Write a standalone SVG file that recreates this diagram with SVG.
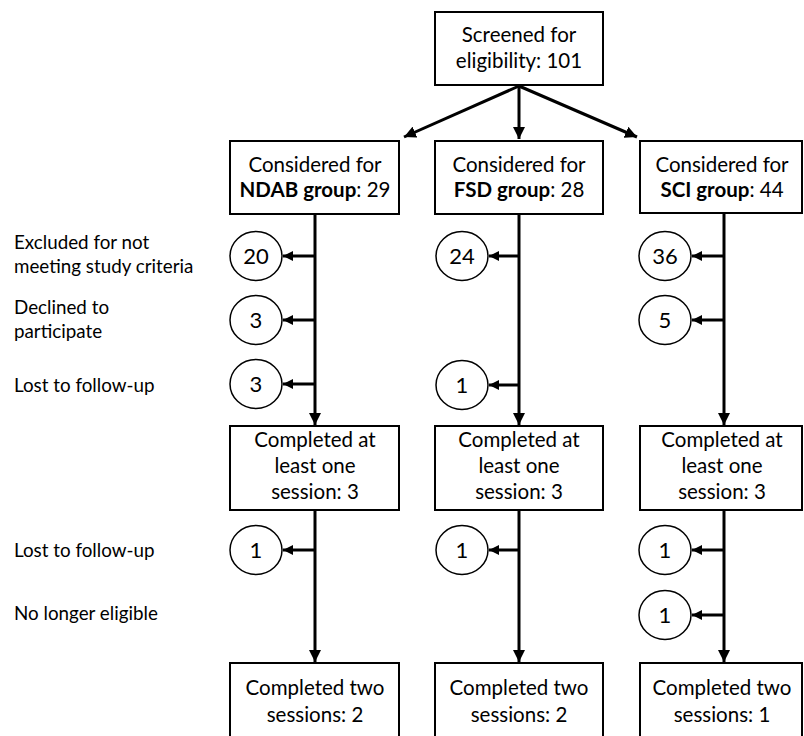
<svg xmlns="http://www.w3.org/2000/svg" width="804" height="736" viewBox="0 0 804 736">
<style>
.box{fill:#fff;stroke:#000;stroke-width:2}
.cir{fill:#fff;stroke:#000;stroke-width:1.5}
.t{font-family:Lato,"Liberation Sans",sans-serif;font-size:20.5px;fill:#000;text-anchor:middle}
.n{font-family:Lato,"Liberation Sans",sans-serif;font-size:22px;fill:#000;text-anchor:middle}
.lab{font-family:Lato,"Liberation Sans",sans-serif;font-size:18.8px;fill:#000}
.c{stroke:#000;stroke-width:3;fill:none}
.h{stroke:#000;stroke-width:3;fill:none}
.b{font-weight:bold}
</style>
<defs>
<marker id="ah" markerUnits="userSpaceOnUse" markerWidth="12" markerHeight="12" refX="12" refY="6" orient="auto">
<path d="M0,0 L12,6 L0,12 z" fill="#000"/>
</marker>
<marker id="ahs" markerUnits="userSpaceOnUse" markerWidth="10" markerHeight="10" refX="10" refY="5" orient="auto">
<path d="M0,0 L10,5 L0,10 z" fill="#000"/>
</marker>
</defs>
<g id="connectors">
<line class="c" x1="519" y1="86" x2="404" y2="137" marker-end="url(#ah)"/>
<line class="c" x1="519" y1="86" x2="519" y2="139" marker-end="url(#ah)"/>
<line class="c" x1="519" y1="86" x2="637" y2="137" marker-end="url(#ah)"/>
<line class="c" x1="315" y1="214" x2="315" y2="425" marker-end="url(#ah)"/>
<line class="c" x1="519" y1="214" x2="519" y2="425" marker-end="url(#ah)"/>
<line class="c" x1="724" y1="213" x2="724" y2="425" marker-end="url(#ah)"/>
<line class="c" x1="315" y1="510" x2="315" y2="662" marker-end="url(#ah)"/>
<line class="c" x1="519" y1="510" x2="519" y2="662" marker-end="url(#ah)"/>
<line class="c" x1="724" y1="510" x2="724" y2="662" marker-end="url(#ah)"/>
<line class="h" x1="316" y1="256" x2="283" y2="256" marker-end="url(#ahs)"/>
<line class="h" x1="316" y1="320" x2="283" y2="320" marker-end="url(#ahs)"/>
<line class="h" x1="316" y1="384" x2="283" y2="384" marker-end="url(#ahs)"/>
<line class="h" x1="316" y1="550" x2="283" y2="550" marker-end="url(#ahs)"/>
<line class="h" x1="520" y1="256" x2="489" y2="256" marker-end="url(#ahs)"/>
<line class="h" x1="520" y1="385" x2="489" y2="385" marker-end="url(#ahs)"/>
<line class="h" x1="520" y1="550" x2="489" y2="550" marker-end="url(#ahs)"/>
<line class="h" x1="725" y1="256" x2="692" y2="256" marker-end="url(#ahs)"/>
<line class="h" x1="725" y1="320" x2="692" y2="320" marker-end="url(#ahs)"/>
<line class="h" x1="725" y1="550" x2="692" y2="550" marker-end="url(#ahs)"/>
<line class="h" x1="725" y1="615" x2="692" y2="615" marker-end="url(#ahs)"/>
</g>
<g id="screened">
<rect class="box" x="435" y="12" width="168" height="73"/>
<text class="t" x="519" y="42">Screened for</text>
<text class="t" x="519" y="68">eligibility: 101</text>
</g>
<g id="ndab">
<rect class="box" x="230" y="141" width="169" height="73"/>
<text class="t" x="315" y="172">Considered for</text>
<text class="t" x="315" y="197"><tspan class="b">NDAB group</tspan>: 29</text>
</g>
<g id="fsd">
<rect class="box" x="435" y="141" width="168" height="73"/>
<text class="t" x="519" y="172">Considered for</text>
<text class="t" x="519" y="197"><tspan class="b">FSD group</tspan>: 28</text>
</g>
<g id="sci">
<rect class="box" x="640" y="141" width="162" height="72"/>
<text class="t" x="722" y="172">Considered for</text>
<text class="t" x="722" y="197"><tspan class="b">SCI group</tspan>: 44</text>
</g>
<g id="labels">
<text class="lab" x="14" y="249">Excluded for not</text>
<text class="lab" x="14" y="273">meeting study criteria</text>
<text class="lab" x="14" y="314">Declined to</text>
<text class="lab" x="14" y="338">participate</text>
<text class="lab" x="14" y="392">Lost to follow-up</text>
<text class="lab" x="14" y="557">Lost to follow-up</text>
<text class="lab" x="14" y="620">No longer eligible</text>
</g>
<g id="ndab-excl"><ellipse class="cir" cx="256" cy="256" rx="26" ry="24.5"/><text class="n" x="256" y="264">20</text></g>
<g id="ndab-decl"><ellipse class="cir" cx="256" cy="320" rx="26" ry="24.5"/><text class="n" x="256" y="328">3</text></g>
<g id="ndab-lost"><ellipse class="cir" cx="256" cy="384" rx="26" ry="24.5"/><text class="n" x="256" y="392">3</text></g>
<g id="fsd-excl"><ellipse class="cir" cx="462" cy="256" rx="26" ry="24.5"/><text class="n" x="462" y="264">24</text></g>
<g id="fsd-lost"><ellipse class="cir" cx="462" cy="385" rx="26" ry="24.5"/><text class="n" x="462" y="393">1</text></g>
<g id="sci-excl"><ellipse class="cir" cx="665" cy="256" rx="26" ry="24.5"/><text class="n" x="665" y="264">36</text></g>
<g id="sci-decl"><ellipse class="cir" cx="665" cy="320" rx="26" ry="24.5"/><text class="n" x="665" y="328">5</text></g>
<g id="ndab-one">
<rect class="box" x="230" y="426" width="169" height="84"/>
<text class="t" x="315" y="447">Completed at</text>
<text class="t" x="315" y="473">least one</text>
<text class="t" x="315" y="499">session: 3</text>
</g>
<g id="fsd-one">
<rect class="box" x="435" y="426" width="168" height="84"/>
<text class="t" x="519" y="447">Completed at</text>
<text class="t" x="519" y="473">least one</text>
<text class="t" x="519" y="499">session: 3</text>
</g>
<g id="sci-one">
<rect class="box" x="640" y="426" width="162" height="84"/>
<text class="t" x="722" y="447">Completed at</text>
<text class="t" x="722" y="473">least one</text>
<text class="t" x="722" y="499">session: 3</text>
</g>
<g id="ndab-lost2"><ellipse class="cir" cx="256" cy="550" rx="26" ry="24.5"/><text class="n" x="256" y="558">1</text></g>
<g id="fsd-lost2"><ellipse class="cir" cx="462" cy="550" rx="26" ry="24.5"/><text class="n" x="462" y="558">1</text></g>
<g id="sci-lost2"><ellipse class="cir" cx="665" cy="550" rx="26" ry="24.5"/><text class="n" x="665" y="558">1</text></g>
<g id="sci-inel"><ellipse class="cir" cx="665" cy="615" rx="26" ry="24.5"/><text class="n" x="665" y="623">1</text></g>
<g id="ndab-two">
<rect class="box" x="230" y="663" width="169" height="80"/>
<text class="t" x="315" y="695">Completed two</text>
<text class="t" x="315" y="722">sessions: 2</text>
</g>
<g id="fsd-two">
<rect class="box" x="435" y="663" width="168" height="80"/>
<text class="t" x="519" y="695">Completed two</text>
<text class="t" x="519" y="722">sessions: 2</text>
</g>
<g id="sci-two">
<rect class="box" x="640" y="663" width="162" height="80"/>
<text class="t" x="722" y="695">Completed two</text>
<text class="t" x="722" y="722">sessions: 1</text>
</g>
</svg>
